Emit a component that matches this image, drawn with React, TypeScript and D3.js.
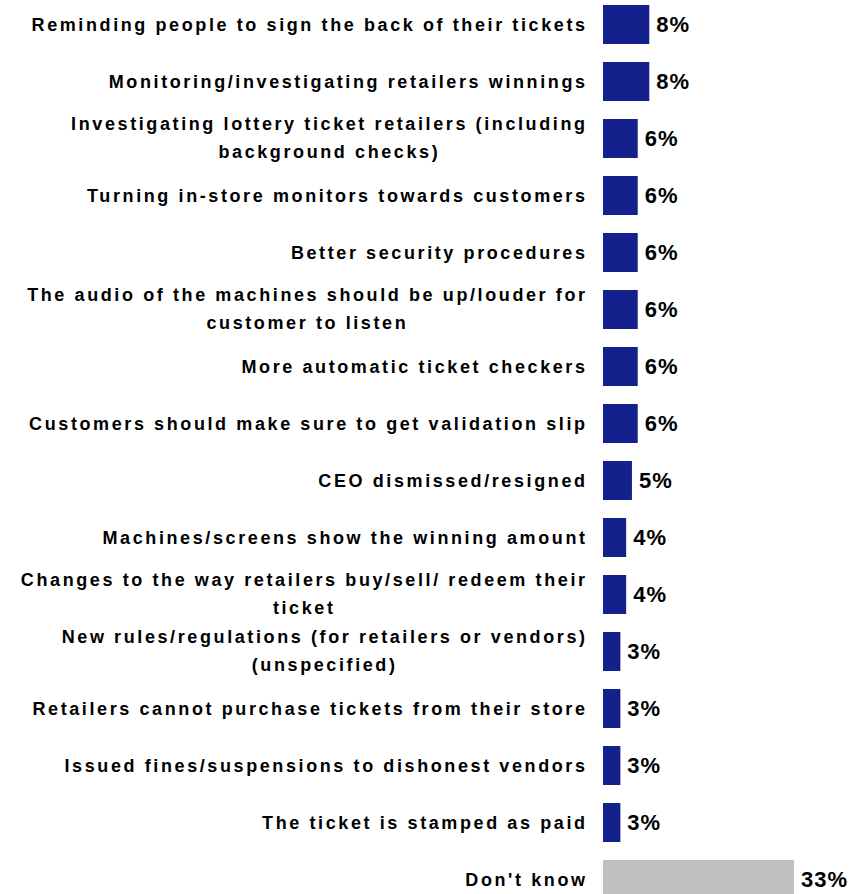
import React from "react";
import * as d3 from "d3";

const categories: string[] = [
  "Reminding people to sign the back of their tickets",
  "Monitoring/investigating retailers winnings",
  "Investigating lottery ticket retailers (including\nbackground checks)",
  "Turning in-store monitors towards customers",
  "Better security procedures",
  "The audio of the machines should be up/louder for\ncustomer to listen",
  "More automatic ticket checkers",
  "Customers should make sure to get validation slip",
  "CEO dismissed/resigned",
  "Machines/screens show the winning amount",
  "Changes to the way retailers buy/sell/ redeem their\nticket",
  "New rules/regulations (for retailers or vendors)\n(unspecified)",
  "Retailers cannot purchase tickets from their store",
  "Issued fines/suspensions to dishonest vendors",
  "The ticket is stamped as paid",
  "Don't know",
];

const values: number[] = [8, 8, 6, 6, 6, 6, 6, 6, 5, 4, 4, 3, 3, 3, 3, 33];
const valueLabels: string[] = values.map((v) => `${v}%`);
const highlight: boolean[] = categories.map((c) => c === "Don't know");

const W = 854;
const H = 894;
const FONT = "Arial, 'Liberation Sans', sans-serif";
const LS = 2.6;

export default function App() {
  const x = d3.scaleLinear().domain([0, 33]).range([603, 794]);
  const y = d3
    .scaleBand<string>()
    .domain(categories)
    .range([-4, 908])
    .paddingInner(0.316)
    .paddingOuter(0.158);
  const bw = y.bandwidth();

  const labelRef = React.useRef<SVGGElement>(null);
  const [widths, setWidths] = React.useState<Record<string, number>>({});

  React.useLayoutEffect(() => {
    if (!labelRef.current) return;
    const w: Record<string, number> = {};
    d3.select(labelRef.current)
      .selectAll<SVGTextElement, unknown>("text.measure")
      .each(function () {
        const key = this.getAttribute("data-key") || "";
        w[key] = this.getComputedTextLength();
      });
    setWidths(w);
  }, []);

  const rightX = 585 + LS;

  return (
    <svg
      width={W}
      height={H}
      style={{ position: "absolute", left: 0, top: 0, background: "#fff" }}
    >
      <g ref={labelRef} visibility="hidden">
        {categories.map((c) =>
          c.split("\n").map((l, k) => (
            <text
              key={c + k}
              className="measure"
              data-key={c + "|" + k}
              fontFamily={FONT}
              fontWeight="bold"
              fontSize={18}
              letterSpacing={LS}
            >
              {l}
            </text>
          ))
        )}
      </g>
      {categories.map((c, i) => {
        const y0 = y(c)!;
        const cy = y0 + bw / 2;
        const lines = c.split("\n");
        const lw = lines.map((_, k) => widths[c + "|" + k] || 0);
        const blockW = Math.max(...lw);
        const centerX = rightX - blockW / 2;
        return (
          <g key={c}>
            <rect
              x={x(0)}
              y={y0}
              width={x(values[i]) - x(0)}
              height={bw}
              fill={highlight[i] ? "#C0C0C0" : "#14208C"}
            />
            <text
              fontFamily={FONT}
              fontWeight="bold"
              fontSize={18}
              letterSpacing={LS}
              fill="#000"
            >
              {lines.length === 1 ? (
                <tspan x={rightX} y={cy + 6} textAnchor="end">
                  {lines[0]}
                </tspan>
              ) : (
                lines.map((l, k) => (
                  <tspan
                    key={k}
                    x={centerX + lw[k] / 2}
                    y={cy - 8.5 + k * 28}
                    textAnchor="end"
                  >
                    {l}
                  </tspan>
                ))
              )}
            </text>
            <text
              x={x(values[i]) + 7}
              y={cy + 7.5}
              fontFamily={FONT}
              fontWeight="bold"
              fontSize={22}
              letterSpacing={1}
              fill="#000"
            >
              {valueLabels[i]}
            </text>
          </g>
        );
      })}
    </svg>
  );
}
